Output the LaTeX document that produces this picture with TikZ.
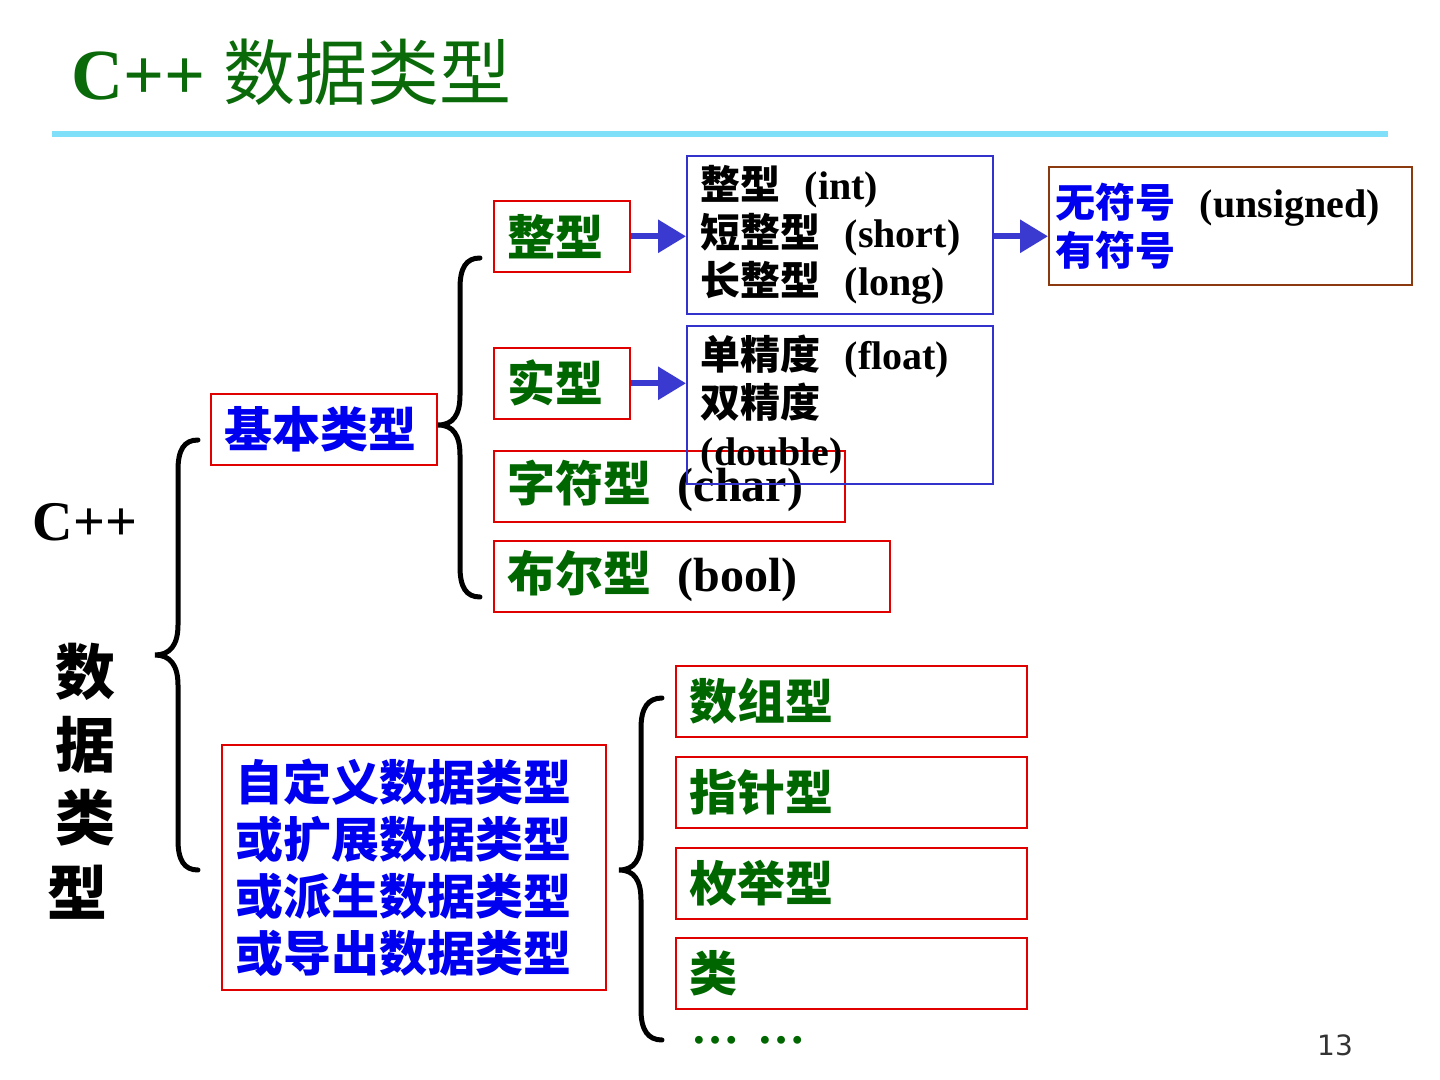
\documentclass[tikz,border=0pt]{standalone}
\usepackage{fontspec}
\setmainfont{Liberation Serif}
\newfontfamily\cjk{Noto Sans CJK SC}
\newfontfamily\pagefont{DejaVu Sans}
\usepackage{xcolor}
\definecolor{titlegreen}{HTML}{0A6A0A}
\definecolor{leafgreen}{HTML}{006600}
\definecolor{kindblue}{HTML}{0000F0}
\definecolor{boxred}{HTML}{E00000}
\definecolor{boxblue}{HTML}{3333CC}
\definecolor{boxbrown}{HTML}{8B3A0F}
\definecolor{rulecyan}{HTML}{80E0FA}
\definecolor{arrowblue}{HTML}{3A3AD0}
\usetikzlibrary{arrows.meta}
\newcommand{\zh}[1]{{\cjk #1}}

\begin{document}
\begin{tikzpicture}[
  x=0.5pt, y=-0.5pt,
  font=\bfseries,
  box/.style={
    draw=boxred, line width=0.8pt, anchor=north west,
    minimum height=35.5pt, inner xsep=7pt, align=left,
    font=\bfseries\fontsize{24}{28.5}\selectfont
  },
  subbox/.style={
    draw=boxblue, line width=0.8pt, anchor=north west,
    minimum height=79pt, text width=139pt, inner xsep=7pt, align=left,
    font=\bfseries\fontsize{20}{24}\selectfont
  },
  link/.style={-{Triangle[length=14pt, width=16pt]}, arrowblue, line width=3pt},
  curly/.style={line width=2.5pt, line cap=round}
]
  \useasboundingbox (0,0) rectangle (1440,1080);

  % title and rule
  \node[text=titlegreen, anchor=west, font=\fontsize{36}{36}\selectfont] (title)
    at (64,72) {\textbf{C++} \zh{数据类型}};
  \draw[rulecyan, line width=3pt] (52,134) -- (1388,134);

  % left label
  \node[font=\bfseries\fontsize{28}{28}\selectfont] (cpp) at (85,522) {C++};
  \node[font=\bfseries\fontsize{30}{30}\selectfont] (shu) at (85,672) {\zh{数}};
  \node[font=\bfseries\fontsize{30}{30}\selectfont] (ju) at (85,745) {\zh{据}};
  \node[font=\bfseries\fontsize{30}{30}\selectfont] (lei) at (85,818) {\zh{类}};
  \node[font=\bfseries\fontsize{30}{30}\selectfont] (xing) at (77,892) {\zh{型}};

  % first level
  \node[box, text=kindblue, text width=99pt] (basic) at (210,393) {\zh{基本类型}};
  \node[box, text=kindblue, text width=178pt, minimum height=122.5pt] (custom) at (221,744)
    {\zh{自定义数据类型}\\\zh{或扩展数据类型}\\\zh{或派生数据类型}\\\zh{或导出数据类型}};

  % basic types
  \node[box, text=leafgreen, text width=54pt] (int) at (493,200) {\zh{整型}};
  \node[box, text=leafgreen, text width=54pt] (real) at (493,347) {\zh{实型}};
  \node[box, text=leafgreen, text width=161.5pt] (char) at (493,450)
    {\zh{字符型}\hspace{13pt}{\color{black}(char)}};
  \node[box, text=leafgreen, text width=184pt] (bool) at (493,540)
    {\zh{布尔型}\hspace{13pt}{\color{black}(bool)}};

  \node[subbox] (intkinds) at (686,155)
    {\zh{整型}\hspace{12pt}(int)\\\zh{短整型}\hspace{12pt}(short)\\\zh{长整型}\hspace{12pt}(long)};
  \node[subbox] (realkinds) at (686,325)
    {\zh{单精度}\hspace{12pt}(float)\\\zh{双精度}\\(double)};
  \node[subbox, draw=boxbrown, text=kindblue, text width=174.5pt, minimum height=59pt,
    inner xsep=3.5pt] (signs) at (1048,166)
    {\zh{无符号}\hspace{12pt}{\color{black}(unsigned)}\\\zh{有符号}};

  \draw[link] (int.east) -- (int.east -| intkinds.west);
  \draw[link] (real.east) -- (real.east -| realkinds.west);
  \draw[link] (intkinds.east |- int.east) -- (int.east -| signs.west);

  % derived types
  \node[box, text=leafgreen, text width=161.5pt] (array) at (675,665) {\zh{数组型}};
  \node[box, text=leafgreen, text width=161.5pt] (pointer) at (675,756) {\zh{指针型}};
  \node[box, text=leafgreen, text width=161.5pt] (enum) at (675,847) {\zh{枚举型}};
  \node[box, text=leafgreen, text width=161.5pt] (class) at (675,937) {\zh{类}};
  \node[text=leafgreen, anchor=west, font=\bfseries\fontsize{24}{24}\selectfont] (more)
    at (684,1040) {…\hspace{9pt}…};

  % braces
  \draw[curly] (198,440) .. controls (184,440) and (178,450) .. (178,470) -- (178,625)
    .. controls (178,645) and (170,655) .. (155,655)
    .. controls (170,655) and (178,665) .. (178,685) -- (178,840)
    .. controls (178,860) and (184,870) .. (198,870);
  \draw[curly] (480,258) .. controls (466,258) and (460,268) .. (460,288) -- (460,395)
    .. controls (460,415) and (453,425) .. (438,425)
    .. controls (453,425) and (460,435) .. (460,455) -- (460,567)
    .. controls (460,587) and (466,597) .. (480,597);
  \draw[curly] (662,698) .. controls (648,698) and (641,708) .. (641,728) -- (641,840)
    .. controls (641,860) and (634,870) .. (619,870)
    .. controls (634,870) and (641,880) .. (641,900) -- (641,1010)
    .. controls (641,1030) and (648,1040) .. (662,1040);

  \node[text=black!80, font=\pagefont\fontsize{14}{14}\selectfont] (page) at (1335,1045) {13};
\end{tikzpicture}
\end{document}
